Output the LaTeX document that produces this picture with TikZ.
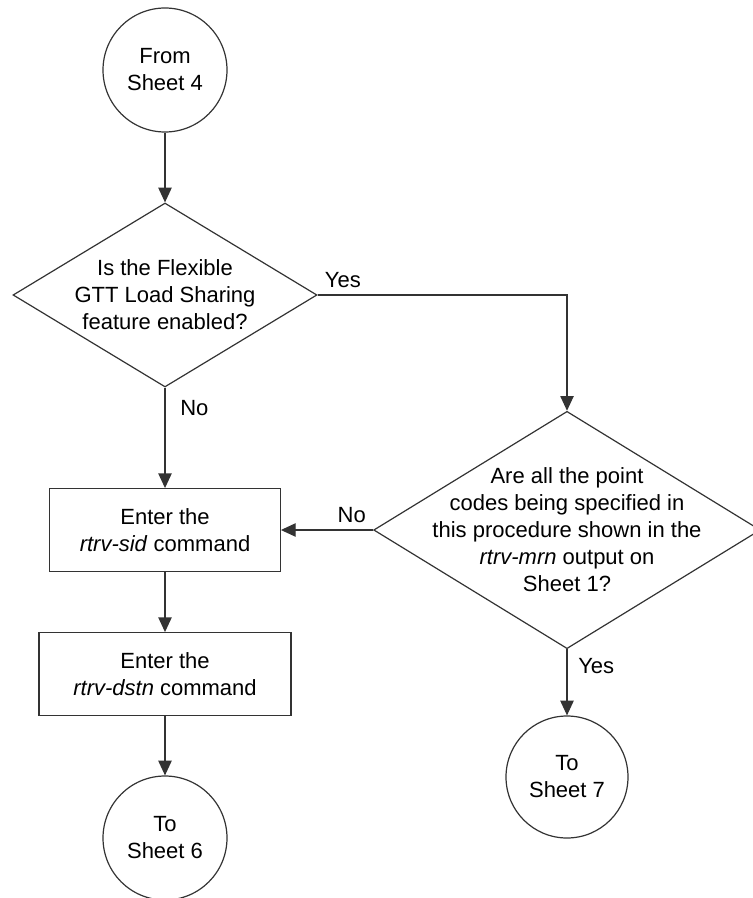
\documentclass[tikz,border=0pt]{standalone}
\usepackage{fontspec}
\setmainfont{Liberation Sans}
\usetikzlibrary{arrows.meta,positioning,shapes.geometric}

\begin{document}
\begin{tikzpicture}[
  x=0.75pt,y=-0.75pt,font=\fontsize{16.5}{20.25}\selectfont,
  terminal/.style={circle, draw=black!80, line width=0.9pt, minimum size=93pt,
    inner sep=0pt, align=center},
  decision/.style={diamond, draw=black!80, line width=0.9pt, inner sep=0pt},
  qtext/.style={align=center, inner sep=0pt},
  process/.style={draw=black!80, line width=0.9pt, minimum height=62pt,
    align=center},
  answer/.style={inner sep=5pt},
  flow/.style={-{Triangle[length=11pt,width=10pt]}, line width=0.9pt, draw=black!80}
]
  \useasboundingbox (0,0) rectangle (752,898);

  \node[terminal] (start) at (165,70) {From\\Sheet 4};

  \node[decision, minimum width=228pt, minimum height=138pt] (feat) at (165,295) {};
  \node[qtext] (featq) at (feat) {Is the Flexible\\GTT Load Sharing\\feature enabled?};

  \node[decision, minimum width=290pt, minimum height=178pt] (allpc) at (567,530) {};
  \node[qtext] (allpcq) at (allpc)
    {Are all the point\\codes being specified in\\this procedure shown in the\\
     \textit{rtrv-mrn} output on\\Sheet 1?};

  \node[process, minimum width=173pt] (sid) at (165,530)
    {Enter the\\\textit{rtrv-sid} command};
  \node[process, minimum width=189pt] (dstn) at (165,674)
    {Enter the\\\textit{rtrv-dstn} command};

  \node[terminal] (sheet6) at (165,838) {To\\Sheet 6};
  \node[terminal, minimum size=91.5pt] (sheet7) at (567,777) {To\\Sheet 7};

  \draw[flow] (start) -- (feat);
  \draw[flow] (feat.east) -| (allpc.north)
    node[answer, pos=0, above right] {Yes};
  \draw[flow] (feat.south) -- (sid.north)
    node[answer, pos=0.2, right, xshift=6pt] {No};
  \draw[flow] (allpc.west) -- (sid.east)
    node[answer, pos=0, above left] {No};
  \draw[flow] (sid) -- (dstn);
  \draw[flow] (dstn) -- (sheet6);
  \draw[flow] (allpc.south) -- (sheet7)
    node[answer, pos=0.25, right, xshift=3pt] {Yes};
\end{tikzpicture}
\end{document}
